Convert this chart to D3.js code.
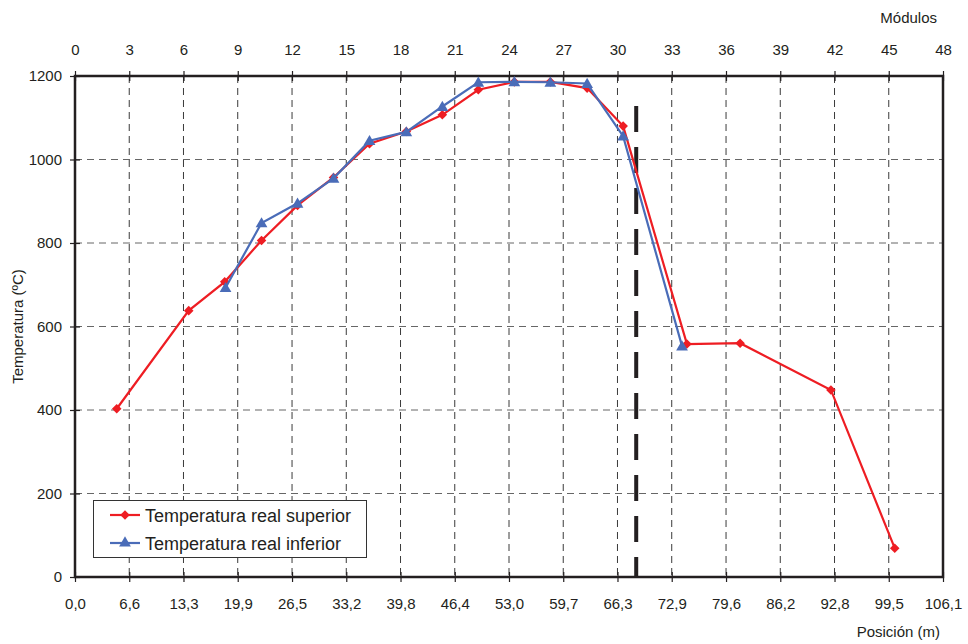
<!DOCTYPE html>
<html>
<head>
<meta charset="utf-8">
<script src="https://cdn.jsdelivr.net/npm/d3@7"></script>
<style>
  html, body { margin: 0; padding: 0; background: #fff; }
  svg { display: block; font-family: "Liberation Sans", Arial, sans-serif; }
</style>
</head>
<body>
<svg id="chart" width="968" height="644"></svg>
<script>
// Temperature profile along the kiln (position in metres, temperature in ºC)
const superiorPos  = [5.1, 13.9, 18.3, 22.8, 27.2, 31.6, 36.0, 40.5, 44.9, 49.3, 53.7, 58.1, 62.6, 67.0, 74.8, 81.3, 92.4, 100.2];
const superiorTemp = [403, 638, 707, 806, 890, 957, 1038, 1067, 1107, 1167, 1186, 1186, 1171, 1080, 558, 560, 448, 69];

const inferiorPos  = [18.4, 22.8, 27.2, 31.6, 36.0, 40.5, 44.9, 49.3, 53.7, 58.1, 62.6, 67.0, 74.2];
const inferiorTemp = [693, 848, 895, 955, 1045, 1066, 1127, 1185, 1186, 1185, 1182, 1056, 553];

// Marker for the end of the firing zone
const limitPos = 68.6;
const limitTop = 1128;

// Axis ticks
const positionTicks  = [0, 6.63, 13.26, 19.89, 26.53, 33.16, 39.79, 46.42, 53.05, 59.68, 66.31, 72.94, 79.58, 86.21, 92.84, 99.47, 106.1];
const positionLabels = ["0,0", "6,6", "13,3", "19,9", "26,5", "33,2", "39,8", "46,4", "53,0", "59,7", "66,3", "72,9", "79,6", "86,2", "92,8", "99,5", "106,1"];
const moduleTicks    = [0, 3, 6, 9, 12, 15, 18, 21, 24, 27, 30, 33, 36, 39, 42, 45, 48];
const tempTicks      = [0, 200, 400, 600, 800, 1000, 1200];

const seriesNames = ["Temperatura real superior", "Temperatura real inferior"];

const RED = "#ee1d23";
const BLUE = "#4a6cb8";
const INK = "#231f20";

const svg = d3.select("#chart");
const plotL = 75, plotR = 943, plotT = 76, plotB = 577;

const x = d3.scaleLinear().domain([0, 106.1]).range([plotL, plotR]);
const xm = d3.scaleLinear().domain([0, 48]).range([plotL, plotR]);
const y = d3.scaleLinear().domain([0, 1200]).range([plotB, plotT]);

// Grid
const grid = svg.append("g");
grid.selectAll("line.v").data(positionTicks.slice(1, -1)).join("line")
  .attr("x1", d => x(d)).attr("x2", d => x(d))
  .attr("y1", plotT).attr("y2", plotB)
  .attr("stroke", "#3a3a3a").attr("stroke-width", 1)
  .attr("stroke-dasharray", "7,5");
grid.selectAll("line.h").data(tempTicks.slice(1, -1)).join("line")
  .attr("x1", plotL).attr("x2", plotR)
  .attr("y1", d => y(d)).attr("y2", d => y(d))
  .attr("stroke", "#666").attr("stroke-width", 1)
  .attr("stroke-dasharray", "7,5");

// Axes
function styleAxis(g) {
  g.select(".domain").remove();
  g.selectAll("line").attr("stroke", INK).attr("stroke-width", 1.2);
  g.selectAll("text").attr("fill", INK).style("font-size", "15px")
    .style("font-family", '"Liberation Sans", Arial, sans-serif');
}

const gBottom = svg.append("g").attr("transform", `translate(0,${plotB})`)
  .call(d3.axisBottom(x).tickValues(positionTicks).tickFormat((d, i) => positionLabels[i]).tickSize(5).tickPadding(16))
  .call(styleAxis);
gBottom.selectAll(".tick line").attr("y1", -5).attr("y2", 5);

const gTop = svg.append("g").attr("transform", `translate(0,${plotT})`)
  .call(d3.axisTop(xm).tickValues(moduleTicks).tickFormat(d3.format("d")).tickSize(5).tickPadding(16))
  .call(styleAxis);
gTop.selectAll(".tick line").attr("y1", -5).attr("y2", 5);

const gLeft = svg.append("g").attr("transform", `translate(${plotL},0)`)
  .call(d3.axisLeft(y).tickValues(tempTicks).tickFormat(d3.format("d")).tickSize(5).tickPadding(8))
  .call(styleAxis);
gLeft.selectAll(".tick line").attr("x1", -5).attr("x2", 5);

// Frame
svg.append("rect")
  .attr("x", plotL).attr("y", plotT)
  .attr("width", plotR - plotL).attr("height", plotB - plotT)
  .attr("fill", "none").attr("stroke", INK).attr("stroke-width", 2.5);

// Axis titles
svg.append("text").attr("x", 937).attr("y", 23).attr("text-anchor", "end")
  .attr("fill", INK).style("font-size", "15px").text("Módulos");
svg.append("text").attr("x", 940).attr("y", 637).attr("text-anchor", "end")
  .attr("fill", INK).style("font-size", "15px").text("Posición (m)");
svg.append("text").attr("transform", `translate(23,${(plotT + plotB) / 2}) rotate(-90)`)
  .attr("text-anchor", "middle").attr("fill", INK).style("font-size", "15px")
  .text("Temperatura (ºC)");

// Firing-zone limit
svg.append("line")
  .attr("x1", x(limitPos)).attr("x2", x(limitPos))
  .attr("y1", y(limitTop)).attr("y2", plotB)
  .attr("stroke", INK).attr("stroke-width", 4)
  .attr("stroke-dasharray", "26,15");

// Series
const line = d3.line().x(d => x(d[0])).y(d => y(d[1]));
const supData = superiorPos.map((p, i) => [p, superiorTemp[i]]);
const infData = inferiorPos.map((p, i) => [p, inferiorTemp[i]]);

const diamond = d3.symbol().type(d3.symbolSquare).size(46);
const triangle = d3.symbol().type(d3.symbolTriangle).size(60);

svg.append("path").datum(supData).attr("d", line)
  .attr("fill", "none").attr("stroke", RED).attr("stroke-width", 2.2);
svg.append("g").selectAll("path").data(supData).join("path")
  .attr("d", diamond)
  .attr("transform", d => `translate(${x(d[0])},${y(d[1])}) rotate(45)`)
  .attr("fill", RED);

svg.append("path").datum(infData).attr("d", line)
  .attr("fill", "none").attr("stroke", BLUE).attr("stroke-width", 2.2);
svg.append("g").selectAll("path").data(infData).join("path")
  .attr("d", triangle)
  .attr("transform", d => `translate(${x(d[0])},${y(d[1]) + 1})`)
  .attr("fill", BLUE);

// Legend
const legend = svg.append("g");
legend.append("rect").attr("x", 93.5).attr("y", 500.5).attr("width", 273).attr("height", 57)
  .attr("fill", "#fff").attr("stroke", "#333").attr("stroke-width", 1);
const rows = [
  { name: seriesNames[0], color: RED, sym: diamond, rot: 45, yy: 515 },
  { name: seriesNames[1], color: BLUE, sym: triangle, rot: 0, yy: 543 }
];
rows.forEach(r => {
  legend.append("line").attr("x1", 110).attr("x2", 140).attr("y1", r.yy).attr("y2", r.yy)
    .attr("stroke", r.color).attr("stroke-width", 2.2);
  legend.append("path").attr("d", r.sym)
    .attr("transform", `translate(125,${r.yy}) rotate(${r.rot})`).attr("fill", r.color);
  legend.append("text").attr("x", 145).attr("y", r.yy + 6.5)
    .attr("fill", INK).style("font-size", "18px").text(r.name);
});
</script>
</body>
</html>
